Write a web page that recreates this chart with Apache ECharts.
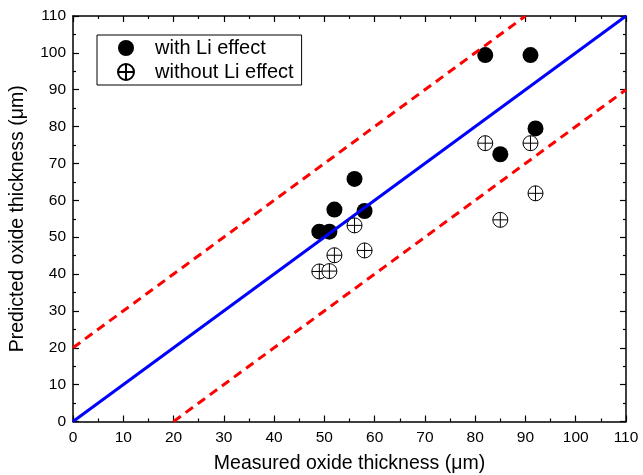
<!DOCTYPE html>
<html>
<head>
<meta charset="utf-8">
<script src="https://cdn.jsdelivr.net/npm/echarts@6/dist/echarts.min.js"></script>
<style>html,body{margin:0;padding:0;background:#fff}#c{width:643px;height:475px}</style>
</head>
<body>
<div id="c"></div>
<script>
const measured = [49, 51, 52, 56, 58, 82, 85, 91, 92];
const withLi = [51.5, 51.5, 57.5, 65.8, 57.1, 99.4, 72.5, 99.4, 79.5];
const withoutLi = [40.7, 40.8, 45.1, 53.2, 46.4, 75.5, 54.7, 75.5, 61.9];
const xTicks = [0, 10, 20, 30, 40, 50, 60, 70, 80, 90, 100, 110];
const yTicks = [0, 10, 20, 30, 40, 50, 60, 70, 80, 90, 100, 110];
const idealLine = [[0, 0], [110, 110]];
const upperLine = [[0, 20], [90, 110]];
const lowerLine = [[20, 0], [110, 90]];

const font = 'Liberation Sans, Arial, Helvetica, sans-serif';
const crossCircle = 'path://M0,-10 A10,10 0 1,1 0,10 A10,10 0 1,1 0,-10 Z M-10,0 L10,0 M0,-10 L0,10';

function axisBase(extra) {
  return Object.assign({
    type: 'value', min: xTicks[0], max: xTicks[xTicks.length - 1], interval: 10,
    axisLine: { show: true, onZero: false, lineStyle: { color: '#000', width: 1.5 } },
    axisTick: { show: true, inside: true, length: 6, lineStyle: { color: '#000', width: 1.2 } },
    minorTick: { show: true, splitNumber: 2, length: 3, lineStyle: { color: '#000', width: 1.2 } },
    splitLine: { show: false },
    axisLabel: { show: true, color: '#000', fontSize: 15.5, fontFamily: font, margin: 7 },
    nameTextStyle: { color: '#000', fontSize: 19.5, fontFamily: font }
  }, extra);
}

const chart = echarts.init(document.getElementById('c'), null, { renderer: 'canvas' });
chart.setOption({
  animation: false,
  backgroundColor: '#fff',
  grid: { left: 73, right: 17, top: 16, bottom: 53.5, containLabel: false, outerBoundsMode: 'none' },
  xAxis: [
    axisBase({ position: 'bottom', name: 'Measured oxide thickness (\u03bcm)', nameLocation: 'middle', nameGap: 32,
      axisLabel: { show: true, color: '#000', fontSize: 15.5, fontFamily: font, margin: 8.5, formatter: v => xTicks.includes(v) ? String(v) : '' } }),
    axisBase({ position: 'top', axisLabel: { show: false } })
  ],
  yAxis: [
    axisBase({ min: yTicks[0], max: yTicks[yTicks.length - 1], position: 'left', name: 'Predicted oxide thickness (\u03bcm)', nameLocation: 'middle', nameGap: 45,
      axisLabel: { show: true, color: '#000', fontSize: 15.5, fontFamily: font, margin: 7, formatter: v => yTicks.includes(v) ? String(v) : '' } }),
    axisBase({ min: yTicks[0], max: yTicks[yTicks.length - 1], position: 'right', axisLabel: { show: false } })
  ],
  legend: {
    orient: 'vertical', left: 97, top: 35,
    data: ['with Li effect', 'without Li effect'],
    borderColor: '#000', borderWidth: 1, padding: [3, 8, 3, 20],
    itemWidth: 16, itemHeight: 16, itemGap: 4,
    textStyle: { color: '#000', fontSize: 20, fontFamily: font, padding: [0, 0, 0, 16] }
  },
  series: [
    { name: 'with Li effect', type: 'scatter', z: 2, symbol: 'circle', symbolSize: 16,
      itemStyle: { color: '#000', opacity: 1 },
      data: measured.map((x, i) => [x, withLi[i]]) },
    { name: 'ideal', type: 'line', z: 3, showSymbol: false, symbol: 'none', silent: true,
      lineStyle: { color: '#0000ff', width: 3 }, data: idealLine },
    { name: 'upper', type: 'line', z: 3, showSymbol: false, symbol: 'none', silent: true,
      lineStyle: { color: '#ff0000', width: 3, type: [9, 6] }, data: upperLine },
    { name: 'lower', type: 'line', z: 3, showSymbol: false, symbol: 'none', silent: true,
      lineStyle: { color: '#ff0000', width: 3, type: [9, 6] }, data: lowerLine },
    { name: 'without Li effect', type: 'scatter', z: 4, symbol: crossCircle, symbolSize: 15,
      itemStyle: { color: '#fff', borderColor: '#000', borderWidth: 1, opacity: 1 },
      data: measured.map((x, i) => [x, withoutLi[i]]) }
  ]
});
</script>
</body>
</html>
